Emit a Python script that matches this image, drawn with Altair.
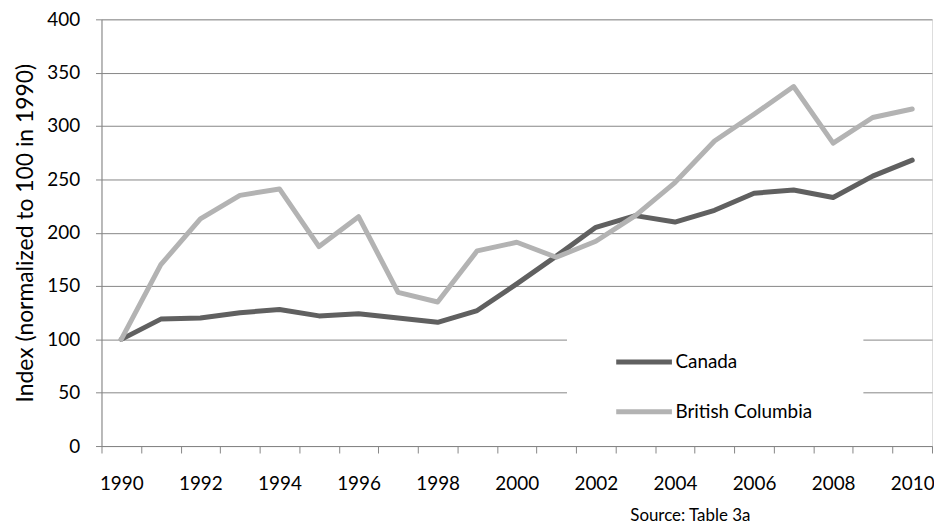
import altair as alt
import pandas as pd

years = list(range(1990, 2011))
canada = [100, 119, 120, 125, 128, 122, 124, 120, 116, 127, 152, 178, 205, 216, 210, 221, 237, 240, 233, 253, 268]
bc = [100, 170, 213, 235, 241, 187, 215, 144, 135, 183, 191, 177, 192, 216, 247, 286, 311, 337, 284, 308, 316]
series_names = ["Canada", "British Columbia"]
series_colors = ["#606060", "#b3b3b3"]
y_ticks = [0, 50, 100, 150, 200, 250, 300, 350, 400]
source_note = ["Source: Table 3a"]

rows = []
for name, vals in zip(series_names, [canada, bc]):
    for yr, v in zip(years, vals):
        rows.append({"year": yr, "value": v, "series": name})
df = pd.DataFrame(rows)

FONT = "Lato"
GRID = "#868686"

lines = alt.Chart(df).mark_line(strokeWidth=5, strokeCap="round", strokeJoin="round").encode(
    x=alt.X("year:O", scale=alt.Scale(type="band", paddingInner=0, paddingOuter=0),
            axis=alt.Axis(title=None, tickBand="extent", labelAngle=0, tickSize=7,
                          labelPadding=22, labelFontSize=19, labelFont=FONT, labelColor="#000000",
                          domainColor=GRID, tickColor=GRID, grid=False,
                          labelExpr="datum.value % 2 == 0 ? datum.label : ''")),
    y=alt.Y("value:Q", scale=alt.Scale(domain=[0, 400], nice=False),
            axis=alt.Axis(title="Index (normalized to 100 in 1990)", values=y_ticks, tickSize=6,
                          labelPadding=16, labelFontSize=19, labelFont=FONT, labelColor="#000000",
                          titleFontSize=23, titleFont=FONT, titleFontWeight="normal", titleColor="#000000",
                          titlePadding=9, domainColor=GRID, tickColor=GRID,
                          gridColor=GRID, gridOpacity=1,
                          gridWidth=1)),
    color=alt.Color("series:N", scale=alt.Scale(domain=series_names, range=series_colors),
                    sort=series_names,
                    legend=alt.Legend(title=None, orient="none", legendX=515, legendY=314,
                                      symbolType="stroke", symbolSize=3136, symbolStrokeWidth=5,
                                      labelFontSize=19, labelFont=FONT, labelColor="#000000",
                                      labelOffset=1, rowPadding=9, padding=0)),
)

legend_bg = alt.Chart(pd.DataFrame({"k": [0]})).mark_rect(color="white").encode(
    x=alt.value(468), x2=alt.value(766), y=alt.value(302), y2=alt.value(410)
)

source = alt.Chart(pd.DataFrame({"t": source_note})).mark_text(
    fontSize=17, font=FONT, color="#000000", align="center", baseline="middle"
).encode(text="t:N", x=alt.value(592), y=alt.value(499))

chart = alt.layer(legend_bg, lines, source).properties(
    width=835, height=429,
    autosize=alt.AutoSizeParams(type="none"),
    padding={"left": 94, "top": 10, "right": 2, "bottom": 80},
).configure_view(stroke=None).configure(background="white")

chart.save("out.html", embed_options={"renderer": "svg", "actions": False})
